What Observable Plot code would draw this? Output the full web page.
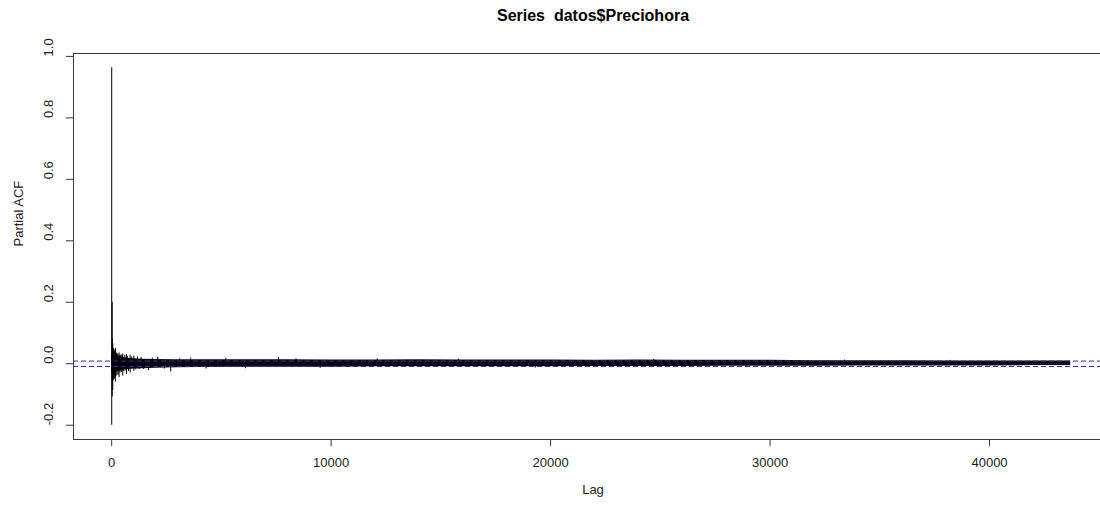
<!DOCTYPE html>
<html>
<head>
<meta charset="utf-8">
<script src="https://cdn.jsdelivr.net/npm/d3@7"></script>
<script src="https://cdn.jsdelivr.net/npm/@observablehq/plot@0.6"></script>
<style>
  html, body { margin: 0; padding: 0; background: #fff; }
  #wrap { position: relative; width: 1100px; height: 507px; overflow: hidden; font-family: "Liberation Sans", Arial, sans-serif; }
  #title { position: relative; height: 30px; }
  #title span { position: absolute; left: 593px; top: 0; transform: translateX(-50%); line-height: 32px; font-size: 16px; font-weight: bold; color: #000; white-space: pre; }
  svg { display: block; }
</style>
</head>
<body>
<div id="wrap">
  <div id="title"><span>Series  datos$Preciohora</span></div>
  <div id="chart"></div>
</div>
<script>
// Partial autocorrelation of the hourly price series.
// Individual lags that stand out from the bulk of the coefficients.
const spikeLags   = [1, 2, 3, 23, 24, 25, 26, 47, 48, 49, 72, 73, 96, 97, 120, 121, 144, 145, 167, 168, 169, 192, 193, 216, 240, 241, 264, 288, 289, 312, 336, 337, 360, 384, 408, 432, 456, 480, 504, 505, 552, 600, 648, 672, 673, 720, 768, 840, 841, 912, 1008, 1009, 1100, 1176, 1250, 1344, 1450, 1680, 1850, 2100, 2400, 2690, 3100, 3600, 4300, 5200, 6100, 7600, 8400, 9500, 12100, 15800, 19300, 24700, 28900, 33400, 38200];
const spikeValues = [0.963, -0.200, 0.030, 0.080, 0.200, -0.108, -0.060, 0.045, 0.065, -0.087, 0.050, -0.055, 0.042, -0.048, 0.038, -0.050, 0.044, -0.040, 0.050, 0.047, -0.060, 0.036, -0.042, 0.030, 0.034, -0.038, 0.028, 0.031, -0.036, -0.026, 0.035, -0.045, 0.027, -0.030, 0.026, 0.029, -0.028, 0.025, 0.032, -0.040, -0.026, 0.027, -0.024, 0.030, -0.035, 0.024, -0.025, 0.028, -0.030, 0.022, 0.025, -0.025, -0.020, 0.022, -0.019, 0.020, -0.018, -0.022, 0.018, 0.021, -0.017, -0.027, 0.016, 0.018, -0.017, 0.017, -0.016, 0.020, 0.016, -0.015, 0.016, 0.015, -0.014, 0.014, -0.013, 0.012, 0.011];

// Envelope of the dense mass of small coefficients, by lag.
const bandLags = [0, 250, 500, 750, 1000, 1500, 2000, 3000, 4000, 6000, 8000, 10000, 12000, 14000, 16000, 18000, 20000, 22000, 24000, 26000, 28000, 30000, 32000, 34000, 36000, 38000, 40000, 42000, 43700];
const bandHigh = [0.030, 0.024, 0.020, 0.018, 0.016, 0.015, 0.014, 0.013, 0.013, 0.013, 0.013, 0.012, 0.012, 0.013, 0.012, 0.012, 0.012, 0.011, 0.012, 0.011, 0.011, 0.011, 0.010, 0.010, 0.010, 0.009, 0.009, 0.009, 0.009];
const bandLow  = [-0.032, -0.026, -0.021, -0.019, -0.017, -0.016, -0.015, -0.013, -0.012, -0.011, -0.011, -0.011, -0.010, -0.010, -0.010, -0.010, -0.010, -0.009, -0.009, -0.009, -0.008, -0.008, -0.008, -0.007, -0.007, -0.007, -0.007, -0.006, -0.006];

// Approximate 95% significance limit (±1.96/√n).
const ciLimit = 0.0088;

const xTicks = [0, 10000, 20000, 30000, 40000];
const yTicks = [-0.2, 0, 0.2, 0.4, 0.6, 0.8, 1.0];

const spikes = spikeLags.map((lag, i) => ({lag, value: spikeValues[i]}));
const band = bandLags.map((lag, i) => ({lag, high: bandHigh[i], low: bandLow[i]}));

const xDomain = [-1740, 45057];
const yDomain = [-0.2465, 1.0095];
const boxColor = "#3a3a3a";
const ciColor = "#2b2ba8";

const chart = Plot.plot({
  width: 1100,
  height: 477,
  marginTop: 23,
  marginBottom: 68,
  marginLeft: 73,
  marginRight: 0,
  style: {fontFamily: "'Liberation Sans', Arial, sans-serif", fontSize: "13px", color: "#222", background: "#fff"},
  x: {domain: xDomain},
  y: {domain: yDomain},
  marks: [
    // dense band of small coefficients
    Plot.areaY(band, {x: "lag", y1: "low", y2: "high", fill: "#0a0a0a", curve: "linear"}),
    // individual coefficients drawn as vertical lines from zero
    Plot.ruleX(spikes, {x: "lag", y1: 0, y2: "value", stroke: "#000", strokeWidth: 1}),
    // significance limits
    Plot.ruleY([ciLimit, -ciLimit], {stroke: ciColor, strokeWidth: 1, strokeDasharray: "5,3"}),
    // box
    Plot.ruleY([yDomain[1]], {stroke: boxColor, strokeWidth: 1}),
    Plot.ruleY([yDomain[0]], {stroke: boxColor, strokeWidth: 1}),
    Plot.ruleX([xDomain[0]], {stroke: boxColor, strokeWidth: 1}),
    // x axis
    Plot.axisX({ticks: xTicks, tickSize: 7, tickPadding: 11, tickFormat: d => String(d), label: null, stroke: boxColor, fontSize: 13}),
    // y axis ticks with vertical labels
    Plot.axisY({ticks: yTicks, tickSize: 7, tickFormat: () => "", label: null, stroke: boxColor}),
    Plot.text(yTicks, {frameAnchor: "left", y: d => d, text: d => d.toFixed(1), rotate: -90, dx: -25, fontSize: 13, fill: "#222"}),
    // axis titles
    Plot.text(["Lag"], {frameAnchor: "bottom", text: d => d, dx: 6, dy: 54, fontSize: 13, fill: "#222"}),
    Plot.text(["Partial ACF"], {frameAnchor: "left", text: d => d, rotate: -90, dx: -55, fontSize: 13, fill: "#222"})
  ]
});
document.getElementById("chart").appendChild(chart);
</script>
</body>
</html>
